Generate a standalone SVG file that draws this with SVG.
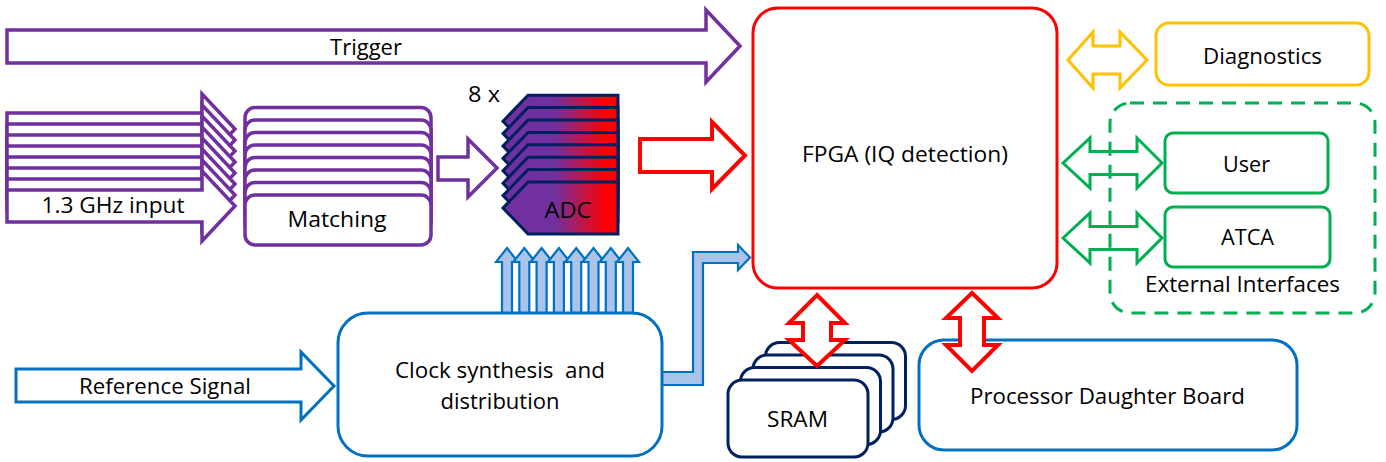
<svg xmlns="http://www.w3.org/2000/svg" width="1386" height="462" viewBox="0 0 1386 462">
  <defs>
    <linearGradient id="adcFill" gradientUnits="userSpaceOnUse" x1="503" y1="0" x2="618" y2="0">
      <stop offset="0" stop-color="#7030A0"/>
      <stop offset="0.45" stop-color="#7030A0"/>
      <stop offset="0.9" stop-color="#FF0000"/>
      <stop offset="1" stop-color="#FF0000"/>
    </linearGradient>
    <path id="inArrow" d="M7,-16 H202 V-35 L235,0 L202,35 V16 H7 Z"/>
    <rect id="matchBox" x="245" y="0" width="186" height="50" rx="10"/>
    <path id="adcShape" d="M503,26 L528,0 H618 V52 H528 Z"/>
    <path id="clkUp" d="M-5,313 V262 H-11 L0,248 L11,262 H5 V313 Z"/>
    <rect id="sramBox" x="0" y="0" width="140" height="77" rx="14"/>
  </defs>
  <style>
    .t { font-family: "Open Sans", "Noto Sans", "Liberation Sans", sans-serif; font-size: 22px; fill: #000; text-anchor: middle; white-space: pre; }
    .purple { fill: #fff; stroke: #7030A0; stroke-width: 3.5; stroke-linejoin: miter; }
    .adc { fill: url(#adcFill); stroke: #002060; stroke-width: 3; stroke-linejoin: miter; }
    .red { fill: #fff; stroke: #FF0000; stroke-width: 4; stroke-linejoin: miter; }
    .blue { fill: #fff; stroke: #0070C0; stroke-width: 3; }
    .clk { fill: #A9C4E8; stroke: #0070C0; stroke-width: 2.2; stroke-linejoin: miter; }
    .navy { fill: #fff; stroke: #002060; stroke-width: 3; }
    .orange { fill: #fff; stroke: #FFC000; stroke-width: 3; stroke-linejoin: miter; }
    .green { fill: #fff; stroke: #00B050; stroke-width: 3; stroke-linejoin: miter; }
    .greenArrow { fill: none; stroke: #00B050; stroke-width: 3; stroke-linejoin: miter; }
    .dash { fill: none; stroke: #00B050; stroke-width: 3; stroke-dasharray: 14 9; }
  </style>

  <!-- connectors -->
  <g id="connectors">
    <!-- trigger into FPGA -->
    <g id="trigger">
      <path class="purple" d="M7,30 H706 V10 L740,46 L706,82 V63 H7 Z"/>
      <text class="t" x="366" y="55" textLength="72" lengthAdjust="spacingAndGlyphs">Trigger</text>
    </g>
    <!-- eight RF inputs -->
    <g id="rf-inputs">
      <use href="#inArrow" class="purple" transform="translate(0,129)"/>
      <use href="#inArrow" class="purple" transform="translate(0,140)"/>
      <use href="#inArrow" class="purple" transform="translate(0,151)"/>
      <use href="#inArrow" class="purple" transform="translate(0,162)"/>
      <use href="#inArrow" class="purple" transform="translate(0,173)"/>
      <use href="#inArrow" class="purple" transform="translate(0,184)"/>
      <use href="#inArrow" class="purple" transform="translate(0,195)"/>
      <use href="#inArrow" class="purple" transform="translate(0,206)"/>
      <text class="t" x="113" y="213" textLength="143" lengthAdjust="spacingAndGlyphs">1.3 GHz input</text>
    </g>
    <!-- matching to ADC -->
    <path class="purple" d="M438,157 H468 V139 L497,168 L468,197 V180 H438 Z"/>
    <!-- ADC to FPGA -->
    <path class="red" d="M640,139 H712 V122 L745,155.5 L712,189 V172 H640 Z"/>
    <!-- reference signal -->
    <g id="reference">
      <path class="blue" stroke-width="3.5" d="M16,369 H301 V352 L334,386 L301,420 V402 H16 Z"/>
      <text class="t" x="165" y="394" textLength="172" lengthAdjust="spacingAndGlyphs">Reference Signal</text>
    </g>
    <!-- clocks up to the ADCs -->
    <g id="adc-clocks">
      <use href="#clkUp" class="clk" transform="translate(507,0)"/>
      <use href="#clkUp" class="clk" transform="translate(524.3,0)"/>
      <use href="#clkUp" class="clk" transform="translate(541.6,0)"/>
      <use href="#clkUp" class="clk" transform="translate(558.9,0)"/>
      <use href="#clkUp" class="clk" transform="translate(576.2,0)"/>
      <use href="#clkUp" class="clk" transform="translate(593.5,0)"/>
      <use href="#clkUp" class="clk" transform="translate(610.8,0)"/>
      <use href="#clkUp" class="clk" transform="translate(628,0)"/>
    </g>
    <!-- clock to FPGA -->
    <path class="clk" d="M660,372 H693 V252 H738 V245 L750,257.5 L738,270 V263 H703 V385 H660 Z"/>
    <!-- interface arrows -->
    <path class="orange" d="M1068,60 L1093,32 V46 H1120 V32 L1147,60 L1120,88 V74 H1093 V88 Z"/>
    <path class="greenArrow" d="M1063,163 L1090,138 V151.5 H1137 V138 L1162,163 L1137,188 V174.5 H1090 V188 Z"/>
    <path class="greenArrow" d="M1063,238 L1090,213 V226.5 H1137 V213 L1162,238 L1137,263 V249.5 H1090 V263 Z"/>
  </g>

  <g id="matching">
    <use href="#matchBox" class="purple" stroke-width="3" transform="translate(0,107.5)"/>
    <use href="#matchBox" class="purple" stroke-width="3" transform="translate(0,120)"/>
    <use href="#matchBox" class="purple" stroke-width="3" transform="translate(0,132.5)"/>
    <use href="#matchBox" class="purple" stroke-width="3" transform="translate(0,145)"/>
    <use href="#matchBox" class="purple" stroke-width="3" transform="translate(0,157.5)"/>
    <use href="#matchBox" class="purple" stroke-width="3" transform="translate(0,170)"/>
    <use href="#matchBox" class="purple" stroke-width="3" transform="translate(0,182.5)"/>
    <use href="#matchBox" class="purple" stroke-width="3" transform="translate(0,195)"/>
    <text class="t" x="337" y="227" textLength="99" lengthAdjust="spacingAndGlyphs">Matching</text>
  </g>

  <g id="adc">
    <use href="#adcShape" class="adc" transform="translate(0,95.2)"/>
    <use href="#adcShape" class="adc" transform="translate(0,107.6)"/>
    <use href="#adcShape" class="adc" transform="translate(0,120)"/>
    <use href="#adcShape" class="adc" transform="translate(0,132.4)"/>
    <use href="#adcShape" class="adc" transform="translate(0,144.8)"/>
    <use href="#adcShape" class="adc" transform="translate(0,157.2)"/>
    <use href="#adcShape" class="adc" transform="translate(0,169.6)"/>
    <use href="#adcShape" class="adc" transform="translate(0,182)"/>
    <text class="t" x="568" y="218" textLength="47" lengthAdjust="spacingAndGlyphs">ADC</text>
    <text class="t" x="484" y="102" textLength="32" lengthAdjust="spacingAndGlyphs">8 x</text>
  </g>

  <g id="fpga">
    <rect x="753" y="8" width="304" height="280" rx="25" fill="#fff" stroke="#FF0000" stroke-width="3"/>
    <text class="t" x="905" y="162" textLength="206" lengthAdjust="spacingAndGlyphs">FPGA (IQ detection)</text>
  </g>

  <g id="clock">
    <rect class="blue" x="338" y="313" width="324" height="143" rx="30"/>
    <text class="t" x="500" y="378" textLength="210" lengthAdjust="spacingAndGlyphs">Clock synthesis  and</text>
    <text class="t" x="500" y="409" textLength="119" lengthAdjust="spacingAndGlyphs">distribution</text>
  </g>

  <g id="sram">
    <use href="#sramBox" class="navy" transform="translate(765.5,342.5)"/>
    <use href="#sramBox" class="navy" transform="translate(753,355)"/>
    <use href="#sramBox" class="navy" transform="translate(740.5,367.5)"/>
    <use href="#sramBox" class="navy" transform="translate(728,380)"/>
    <text class="t" x="797.5" y="427" textLength="61" lengthAdjust="spacingAndGlyphs">SRAM</text>
  </g>

  <g id="processor">
    <rect class="blue" x="919" y="340" width="378" height="110" rx="25"/>
    <text class="t" x="1107.5" y="404" textLength="275" lengthAdjust="spacingAndGlyphs">Processor Daughter Board</text>
  </g>

  <!-- FPGA memory / processor links, drawn after the boxes so they sit over their borders -->
  <g id="bus-links">
    <path class="red" d="M972,293 L998,318 H984 V345 H998 L972,371 L946,345 H960 V318 H946 Z"/>
    <path class="red" d="M817,295 L845,323 H831 V340 H845 L817,366 L789,340 H803 V323 H789 Z"/>
  </g>

  <g id="diagnostics">
    <rect x="1156" y="23" width="213" height="62" rx="13" fill="#fff" stroke="#FFC000" stroke-width="3"/>
    <text class="t" x="1262.5" y="64" textLength="119" lengthAdjust="spacingAndGlyphs">Diagnostics</text>
  </g>

  <g id="external-interfaces">
    <rect class="dash" x="1110" y="103" width="265" height="210" rx="20"/>
    <text class="t" x="1242.5" y="292" textLength="195" lengthAdjust="spacingAndGlyphs">External Interfaces</text>
  </g>

  <g id="user">
    <rect class="green" x="1165" y="133" width="163" height="60" rx="8"/>
    <text class="t" x="1246.5" y="172" textLength="47" lengthAdjust="spacingAndGlyphs">User</text>
  </g>

  <g id="atca">
    <rect class="green" x="1165" y="207" width="165" height="60" rx="8"/>
    <text class="t" x="1247.5" y="245" textLength="53" lengthAdjust="spacingAndGlyphs">ATCA</text>
  </g>
</svg>
